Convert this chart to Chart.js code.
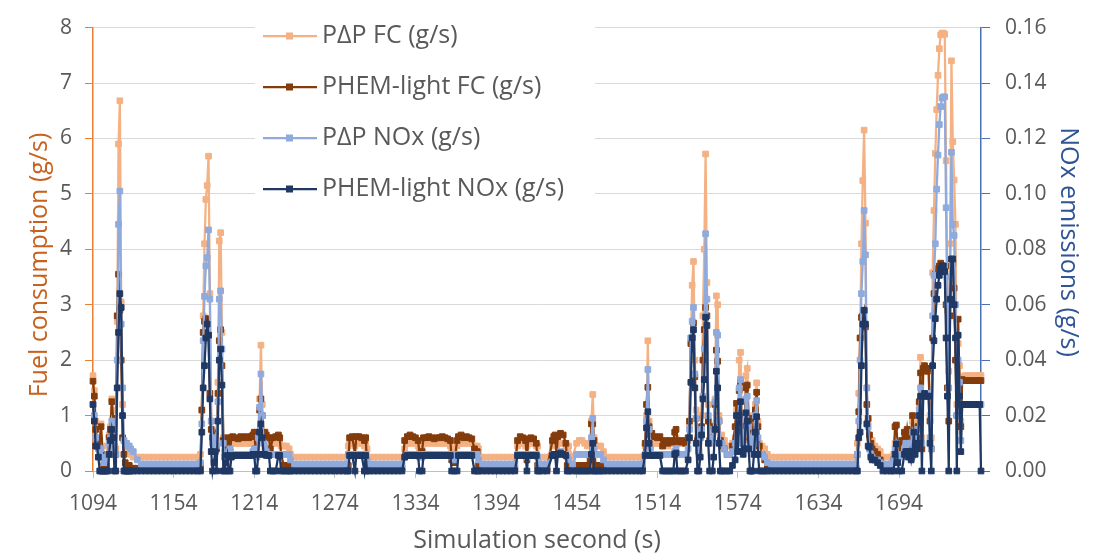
<!DOCTYPE html>
<html lang="en">

<head>
    <meta charset="UTF-8">
    <title>Fuel consumption and NOx</title>
    <script src="https://cdn.jsdelivr.net/npm/chart.js"></script>
    <style>
        html, body { margin: 0; padding: 0; background: #ffffff; }
        #chart { display: block; }
    </style>
</head>

<body>
    <canvas id="chart" width="1093" height="558"></canvas>
    <script>
        // simulation seconds (denser around the peaks)
        const secs = [
            1094,1095,1096,1097,1098,1099,1100,1101,1102,1103,1104,1105,1106,1107,1108,1109,1110,1111,1112,1113,1114,1115,1116,1117,1118,1119,1120,1121,1122,1124,
            1127,1130,1133,1136,1139,1142,1145,1148,1151,1154,1157,1160,1163,1166,1169,1172,1174,
            1175,1176,1177,1178,1179,1180,1181,1182,1183,1184,1185,1186,1187,1188,1189,1190,1191,1192,1193,1194,
            1195,1196,1197,1198,1200,1202,1204,1206,1208,1210,
            1212,1213,1214,1215,1216,1217,1218,1219,1220,1221,
            1222,1223,1225,1226,1228,1230,1232,1233,1234,1236,
            1238,1240,1241,
            1244,1247,1250,1253,1256,1259,1262,1265,1268,1271,1274,1277,1280,1283,
            1284,1285,1287,1289,1290,1292,1294,1296,1297,1298,
            1300,1303,1306,1309,1312,1315,1318,1321,1324,
            1326,1328,1330,1332,1334,1336,1337,1339,1340,1342,
            1344,1346,1348,1350,1352,1354,1356,1358,1360,1361,
            1363,1365,1366,1368,1370,1372,1374,1376,1378,1380,
            1381,
            1384,1387,1390,1393,1396,1399,1402,1405,1408,
            1410,1412,1414,1416,1417,1418,1420,1422,1424,1425,1426,
            1429,1432,
            1436,1437,1438,1439,1440,1442,1444,1446,1447,1448,
            1451,
            1454,1456,1458,1460,1462,1464,1465,1466,1467,1468,1470,1472,1474,
            1477,1480,1483,1486,1489,1492,1495,1498,1501,1503,
            1505,1506,1507,1508,1509,1510,1512,1514,1516,1518,
            1520,1522,1524,1526,1527,1528,1529,1531,1533,1535,
            1537,1538,1539,1540,1541,1542,1543,1544,1545,1546,
            1547,1548,1549,1550,1551,1552,1553,1555,1556,1557,
            1558,1559,1560,1561,1562,1564,1566,1568,1570,1572,
            1573,1574,1575,1576,1577,1578,1579,1580,1581,1582,
            1583,1584,1585,1586,1587,1588,1589,1590,1592,1594,
            1596,
            1599,1602,1605,1608,1611,1614,1617,1620,1623,1626,1629,1632,1635,1638,1641,1644,1647,1650,1653,1656,1659,1662,
            1663,1664,1665,1666,1667,1668,1669,1670,1671,1672,
            1673,1674,1676,1678,1680,1682,1685,1688,1690,1691,
            1692,1693,1694,1696,1698,1699,1700,1701,1702,1703,
            1704,1705,1706,1707,1708,1709,1710,1711,1712,1713,
            1714,1715,1716,1717,1718,1719,1720,1721,1722,1723,
            1724,1725,1726,1727,1728,1729,1730,1731,1732,1733,
            1734,1735,1736,1737,1738,1739,1740,1741,1743,1745,
            1747,1749,1751,1753,1754,1755
        ];

        // PΔP FC (g/s)
        const papFC = [
            1.72,1.45,0.90,0.60,0.55,0.60,0.85,0.45,0.30,0.25,0.30,0.45,0.65,0.80,1.30,1.10,0.45,0.40,2.70,5.90,6.68,3.05,1.20,0.55,0.45,0.40,0.35,0.35,0.30,0.25,
            0.25,0.25,0.25,0.25,0.25,0.25,0.25,0.25,0.25,0.25,0.25,0.25,0.25,0.25,0.25,0.25,0.30,
            1.10,2.80,4.10,4.90,5.15,5.68,3.20,0.90,0.55,0.50,0.70,0.55,1.60,4.15,4.30,2.50,0.60,0.35,0.45,0.50,
            0.45,0.40,0.50,0.50,0.50,0.50,0.50,0.50,0.50,0.50,
            0.50,0.55,0.60,0.45,0.40,0.70,1.30,2.27,1.20,0.60,
            0.55,0.50,0.50,0.45,0.50,0.50,0.55,0.50,0.45,0.45,
            0.45,0.40,0.30,
            0.25,0.25,0.25,0.25,0.25,0.25,0.25,0.25,0.25,0.25,0.25,0.25,0.25,0.25,
            0.45,0.50,0.50,0.45,0.50,0.50,0.50,0.45,0.50,0.40,
            0.25,0.25,0.25,0.25,0.25,0.25,0.25,0.25,0.25,
            0.40,0.50,0.50,0.50,0.50,0.45,0.40,0.45,0.50,0.50,
            0.50,0.50,0.50,0.50,0.50,0.50,0.50,0.50,0.45,0.40,
            0.40,0.45,0.50,0.50,0.50,0.50,0.50,0.50,0.45,0.45,
            0.40,
            0.25,0.25,0.25,0.25,0.25,0.25,0.25,0.25,0.25,
            0.45,0.50,0.50,0.45,0.45,0.50,0.50,0.50,0.45,0.45,0.25,
            0.25,0.25,
            0.45,0.50,0.50,0.45,0.50,0.50,0.50,0.45,0.40,0.45,
            0.25,
            0.50,0.55,0.55,0.50,0.45,0.50,0.90,1.38,0.60,0.45,0.45,0.45,0.35,
            0.25,0.25,0.25,0.25,0.25,0.25,0.25,0.25,0.25,0.25,
            0.45,1.00,2.35,0.90,0.55,0.50,0.50,0.50,0.50,0.45,
            0.50,0.45,0.50,0.50,0.55,0.60,0.50,0.50,0.50,0.50,
            0.55,0.80,2.40,3.35,3.78,2.00,1.10,0.60,0.45,0.70,
            1.00,2.80,4.00,5.72,3.40,1.20,0.50,0.60,0.70,1.30,
            3.16,3.00,1.00,0.60,0.65,0.55,0.45,0.45,0.50,0.60,
            1.10,0.60,2.00,2.14,0.80,0.60,0.70,1.72,1.85,1.00,
            0.55,0.60,0.50,0.60,1.20,1.59,0.90,0.50,0.45,0.40,
            0.30,
            0.25,0.25,0.25,0.25,0.25,0.25,0.25,0.25,0.25,0.25,0.25,0.25,0.25,0.25,0.25,0.25,0.25,0.25,0.25,0.25,0.25,0.25,
            0.50,1.40,2.40,4.10,5.24,6.15,4.47,1.50,0.90,0.60,
            0.50,0.55,0.45,0.40,0.35,0.25,0.25,0.25,0.30,0.50,
            0.55,0.45,0.40,0.45,0.60,0.65,0.70,0.60,0.70,0.60,
            0.90,0.70,0.55,0.60,0.90,1.20,2.05,0.60,1.90,1.85,
            1.80,1.85,1.80,1.00,0.60,3.58,4.70,5.73,6.52,7.14,
            7.62,7.87,7.90,7.90,7.88,5.60,2.90,1.80,4.10,7.40,
            5.94,5.25,4.45,1.20,2.30,1.90,0.90,1.70,1.72,1.72,
            1.72,1.72,1.72,1.72,1.72,1.72
        ];

        // PHEM-light FC (g/s)
        const phemFC = [
            1.62,1.35,0.75,0.50,0.45,0.55,0.80,0.30,0.10,0.05,0.10,0.30,0.60,0.75,1.25,0.95,0.30,0.30,2.80,3.55,2.90,2.00,0.60,0.30,0.15,0.10,0.10,0.10,0.05,0.05,
            0.05,0.05,0.05,0.05,0.05,0.05,0.05,0.05,0.05,0.05,0.05,0.05,0.05,0.05,0.05,0.05,0.10,
            1.10,2.50,2.70,2.75,2.70,2.45,1.40,0.75,0.60,0.55,0.65,0.40,1.40,2.35,2.55,1.90,0.55,0.25,0.50,0.60,
            0.55,0.35,0.60,0.62,0.60,0.58,0.62,0.60,0.62,0.60,
            0.62,0.65,0.70,0.40,0.30,0.65,1.10,1.30,1.00,0.65,
            0.70,0.65,0.60,0.40,0.60,0.62,0.65,0.60,0.30,0.10,
            0.10,0.10,0.05,
            0.05,0.05,0.05,0.05,0.05,0.05,0.05,0.05,0.05,0.05,0.05,0.05,0.05,0.05,
            0.10,0.60,0.62,0.30,0.62,0.62,0.60,0.55,0.60,0.10,
            0.05,0.05,0.05,0.05,0.05,0.05,0.05,0.05,0.05,
            0.55,0.62,0.65,0.62,0.60,0.55,0.30,0.35,0.60,0.60,
            0.62,0.60,0.58,0.60,0.60,0.62,0.60,0.58,0.55,0.20,
            0.15,0.55,0.62,0.65,0.60,0.62,0.60,0.58,0.40,0.35,
            0.10,
            0.05,0.05,0.05,0.05,0.05,0.05,0.05,0.05,0.05,
            0.55,0.62,0.60,0.55,0.20,0.58,0.60,0.58,0.50,0.10,0.05,
            0.05,0.05,
            0.55,0.62,0.65,0.30,0.62,0.68,0.65,0.50,0.10,0.05,
            0.05,
            0.10,0.10,0.10,0.10,0.10,0.20,0.85,0.85,0.55,0.10,0.10,0.10,0.05,
            0.05,0.05,0.05,0.05,0.05,0.05,0.05,0.05,0.05,0.05,
            0.50,1.20,1.51,0.80,0.65,0.68,0.62,0.60,0.62,0.45,
            0.55,0.50,0.55,0.52,0.70,0.75,0.55,0.52,0.55,0.50,
            0.60,0.90,2.30,2.40,2.67,1.70,0.95,0.55,0.35,0.60,
            0.80,2.00,2.55,2.95,2.80,0.90,0.55,0.60,0.80,1.20,
            2.18,1.98,0.90,0.55,0.45,0.40,0.30,0.30,0.45,0.80,
            1.22,0.60,1.45,1.60,0.70,0.55,0.80,1.50,1.55,0.95,
            0.60,0.95,0.60,0.70,1.10,1.42,0.80,0.45,0.30,0.20,
            0.10,
            0.05,0.05,0.05,0.05,0.05,0.05,0.05,0.05,0.05,0.05,0.05,0.05,0.05,0.05,0.05,0.05,0.05,0.05,0.05,0.05,0.05,0.05,
            0.30,1.07,2.40,2.77,2.80,2.90,2.60,1.20,0.95,0.65,
            0.50,0.40,0.35,0.30,0.20,0.10,0.05,0.05,0.20,0.80,
            0.83,0.40,0.30,0.55,0.70,0.55,0.75,0.55,0.70,0.45,
            1.00,0.65,0.45,0.60,0.80,1.25,1.77,0.40,1.85,1.90,
            1.85,1.80,1.85,0.90,0.40,2.40,3.20,3.55,3.60,3.65,
            3.70,3.75,3.70,3.65,3.60,3.00,1.50,0.90,2.80,3.70,
            3.75,3.30,2.00,1.00,2.74,1.60,0.80,1.65,1.63,1.63,
            1.63,1.63,1.63,1.63,1.63,1.63
        ];

        // PΔP NOx (g/s)
        const papNOx = [
            0.024,0.020,0.012,0.009,0.008,0.006,0.008,0.005,0.003,0.003,0.004,0.006,0.010,0.012,0.018,0.016,0.008,0.006,0.040,0.089,0.101,0.053,0.030,0.011,0.010,0.010,0.009,0.009,0.008,0.007,
            0.004,0.0025,0.0025,0.0025,0.0025,0.0025,0.0025,0.0025,0.0025,0.0025,0.0025,0.0025,0.0025,0.0025,0.0025,0.0025,0.003,
            0.017,0.047,0.063,0.074,0.077,0.087,0.062,0.018,0.010,0.009,0.012,0.009,0.025,0.062,0.065,0.044,0.010,0.005,0.006,0.006,
            0.007,0.008,0.006,0.006,0.006,0.006,0.006,0.006,0.006,0.006,
            0.006,0.007,0.008,0.006,0.005,0.012,0.023,0.035,0.020,0.010,
            0.008,0.007,0.006,0.006,0.006,0.006,0.006,0.006,0.006,0.006,
            0.006,0.006,0.004,
            0.0025,0.0025,0.0025,0.0025,0.0025,0.0025,0.0025,0.0025,0.0025,0.0025,0.0025,0.0025,0.0025,0.0025,
            0.006,0.006,0.006,0.006,0.006,0.006,0.006,0.006,0.006,0.004,
            0.0025,0.0025,0.0025,0.0025,0.0025,0.0025,0.0025,0.0025,0.0025,
            0.005,0.006,0.006,0.006,0.006,0.006,0.005,0.005,0.006,0.006,
            0.006,0.006,0.006,0.006,0.006,0.006,0.006,0.006,0.006,0.005,
            0.004,0.006,0.006,0.006,0.006,0.006,0.006,0.006,0.006,0.006,
            0.004,
            0.0025,0.0025,0.0025,0.0025,0.0025,0.0025,0.0025,0.0025,0.0025,
            0.006,0.006,0.006,0.006,0.005,0.006,0.006,0.006,0.006,0.005,0.0025,
            0.0025,0.0025,
            0.006,0.006,0.006,0.006,0.006,0.007,0.006,0.006,0.005,0.004,
            0.0025,
            0.006,0.006,0.006,0.006,0.006,0.006,0.012,0.019,0.008,0.006,0.006,0.006,0.004,
            0.0025,0.0025,0.0025,0.0025,0.0025,0.0025,0.0025,0.0025,0.0025,0.0025,
            0.006,0.018,0.0366,0.015,0.008,0.006,0.006,0.006,0.006,0.006,
            0.006,0.006,0.006,0.006,0.007,0.008,0.006,0.006,0.006,0.006,
            0.008,0.015,0.048,0.054,0.059,0.035,0.019,0.010,0.007,0.012,
            0.015,0.027,0.044,0.0856,0.062,0.020,0.010,0.012,0.015,0.025,
            0.050,0.049,0.018,0.010,0.010,0.008,0.006,0.006,0.007,0.010,
            0.020,0.010,0.030,0.033,0.012,0.010,0.014,0.026,0.027,0.016,
            0.008,0.012,0.008,0.010,0.020,0.0254,0.012,0.006,0.006,0.005,
            0.003,
            0.0025,0.0025,0.0025,0.0025,0.0025,0.0025,0.0025,0.0025,0.0025,0.0025,0.0025,0.0025,0.0025,0.0025,0.0025,0.0025,0.0025,0.0025,0.0025,0.0025,0.0025,0.0025,
            0.006,0.018,0.040,0.064,0.0756,0.094,0.078,0.030,0.016,0.008,
            0.006,0.005,0.004,0.004,0.003,0.0025,0.0025,0.0025,0.004,0.008,
            0.010,0.006,0.005,0.006,0.008,0.010,0.010,0.008,0.010,0.008,
            0.014,0.012,0.008,0.010,0.015,0.022,0.030,0.010,0.028,0.028,
            0.028,0.027,0.028,0.012,0.008,0.056,0.0706,0.082,0.1017,0.114,
            0.125,0.1315,0.1346,0.135,0.135,0.095,0.060,0.030,0.070,0.115,
            0.089,0.085,0.060,0.020,0.040,0.032,0.011,0.024,0.024,0.024,
            0.024,0.024,0.024,0.024,0.024,0.024
        ];

        // PHEM-light NOx (g/s)
        const phemNOx = [
            0.024,0.018,0.009,0.009,0.005,0,0,0,0,0,0,0,0.006,0.011,0.015,0.012,0,0,0.030,0.050,0.064,0.059,0.020,0,0,0,0,0,0,0,
            0,0,0,0,0,0,0,0,0,0,0,0,0,0,0,0,0,
            0.014,0.030,0.038,0.048,0.053,0.049,0.026,0.007,0,0.003,0.007,0,0.018,0.040,0.044,0.031,0,0,0.003,0.0056,
            0,0,0.005,0.0056,0.0056,0.0056,0.0056,0.0056,0.0056,0.0056,
            0.0056,0.006,0.006,0,0,0.006,0.014,0.017,0.012,0.006,
            0.006,0.0056,0.0056,0,0,0,0.0056,0.0056,0,0,
            0,0,0,
            0,0,0,0,0,0,0,0,0,0,0,0,0,0,
            0,0.0056,0.0056,0,0.0056,0.0056,0.0056,0,0.0056,0,
            0,0,0,0,0,0,0,0,0,
            0.005,0.0056,0.0056,0.0056,0.0056,0.0056,0,0,0.0056,0.0056,
            0.0056,0.0056,0.0056,0.0056,0.0056,0.0056,0.0056,0.0056,0.0056,0,
            0,0,0.0056,0.0056,0.0056,0.0056,0.0056,0.0056,0,0,
            0,
            0,0,0,0,0,0,0,0,0,
            0.0056,0.0056,0.0056,0.0056,0,0.0056,0.0056,0.0056,0.0056,0,0,
            0,0,
            0.0056,0.006,0.0056,0,0.006,0.0065,0.006,0.0056,0,0,
            0,
            0,0,0,0,0,0,0.006,0.010,0,0,0,0,0,
            0,0,0,0,0,0,0,0,0,0,
            0.0056,0.0156,0.0214,0.010,0.0056,0.0056,0.0056,0.0056,0.0056,0,
            0,0,0,0,0.006,0.0065,0,0,0,0,
            0.004,0.012,0.032,0.048,0.051,0.030,0.010,0,0,0.005,
            0.013,0.026,0.033,0.0555,0.0525,0.010,0,0,0.005,0.015,
            0.036,0.030,0.010,0,0,0,0,0,0.002,0.004,
            0.020,0.007,0.020,0.025,0.007,0.006,0.008,0.021,0.018,0.008,
            0,0,0,0.006,0.014,0.0196,0.006,0,0,0,
            0,
            0,0,0,0,0,0,0,0,0,0,0,0,0,0,0,0,0,0,0,0,0,0,
            0,0.012,0.014,0.038,0.053,0.058,0.053,0.017,0.009,0.0086,
            0.005,0.004,0.004,0.003,0.002,0,0,0,0,0.006,
            0.0098,0.003,0,0,0.006,0.007,0.007,0.005,0.007,0.004,
            0.007,0.014,0.006,0.008,0.010,0.020,0.027,0,0.027,0.028,
            0.027,0.027,0.027,0.010,0,0.038,0.047,0.055,0.062,0.067,
            0.0706,0.073,0.074,0.074,0.072,0.048,0.027,0,0.062,0.0765,
            0.0765,0.060,0.048,0,0.049,0.027,0.007,0.024,0.024,0.024,
            0.024,0.024,0.024,0.024,0.024,0
        ];

        const tickSecs = [1094, 1154, 1214, 1274, 1334, 1394, 1454, 1514, 1574, 1634, 1694];
        const seriesNames = ['P\u0394P FC (g/s)', 'PHEM-light FC (g/s)', 'P\u0394P NOx (g/s)', 'PHEM-light NOx (g/s)'];
        const seriesColors = ['#F4B183', '#843C0C', '#8FAADC', '#1F3864'];
        const xTitle = 'Simulation second (s)';
        const yTitle = 'Fuel consumption (g/s)';
        const y2Title = 'NOx emissions (g/s)';

        Chart.defaults.font.family = '"Open Sans", sans-serif';
        Chart.defaults.color = '#595959';

        function toPoints(values) {
            return secs.map((s, i) => ({ x: s, y: values[i] }));
        }

        function makeSet(idx, values, axis, order) {
            return {
                label: seriesNames[idx],
                data: toPoints(values),
                yAxisID: axis,
                order: order,
                borderColor: seriesColors[idx],
                backgroundColor: seriesColors[idx],
                pointBackgroundColor: seriesColors[idx],
                pointBorderColor: seriesColors[idx],
                borderWidth: 2.25,
                pointStyle: 'rect',
                pointRadius: 4,
                pointBorderWidth: 1,
                tension: 0,
                clip: false
            };
        }

        // legend box and axis titles
        const sidePlugin = {
            id: 'sideText',
            beforeDatasetsDraw(chart) {
                const ctx = chart.ctx;
                ctx.save();
                ctx.fillStyle = '#ffffff';
                ctx.fillRect(255, 12, 340, 200);
                const rows = [36, 87, 138, 189];
                ctx.font = '25px "Open Sans"';
                ctx.textBaseline = 'middle';
                ctx.textAlign = 'left';
                rows.forEach((y, i) => {
                    ctx.strokeStyle = seriesColors[i];
                    ctx.lineWidth = 2.25;
                    ctx.beginPath();
                    ctx.moveTo(263, y);
                    ctx.lineTo(317, y);
                    ctx.stroke();
                    ctx.fillStyle = seriesColors[i];
                    ctx.fillRect(286, y - 3.5, 7, 7);
                    ctx.fillStyle = '#595959';
                    ctx.fillText(seriesNames[i], 322, y);
                });
                ctx.restore();
            },
            afterDraw(chart) {
                const ctx = chart.ctx;
                const area = chart.chartArea;
                ctx.save();
                ctx.font = '25px "Open Sans"';
                ctx.textAlign = 'center';
                ctx.textBaseline = 'middle';
                ctx.fillStyle = '#595959';
                ctx.fillText(xTitle, (area.left + area.right) / 2, 541);

                ctx.save();
                ctx.translate(40, 265);
                ctx.rotate(-Math.PI / 2);
                ctx.fillStyle = '#C8611F';
                ctx.fillText(yTitle, 0, 0);
                ctx.restore();

                ctx.save();
                ctx.translate(1068, 242);
                ctx.rotate(Math.PI / 2);
                ctx.fillStyle = '#2F5597';
                ctx.fillText(y2Title, 0, 0);
                ctx.restore();
                ctx.restore();
            }
        };

        const ctx = document.getElementById('chart').getContext('2d');
        const chart = new Chart(ctx, {
            type: 'line',
            data: {
                datasets: [
                    makeSet(0, papFC, 'y', 4),
                    makeSet(1, phemFC, 'y', 3),
                    makeSet(2, papNOx, 'y2', 2),
                    makeSet(3, phemNOx, 'y2', 1)
                ]
            },
            options: {
                responsive: false,
                animation: false,
                devicePixelRatio: 1,
                layout: { padding: { top: 16, left: 0, right: 0, bottom: 0 } },
                plugins: {
                    legend: { display: false },
                    tooltip: { enabled: false }
                },
                scales: {
                    x: {
                        type: 'linear',
                        min: 1094,
                        max: 1755,
                        afterBuildTicks: (scale) => {
                            scale.ticks = tickSecs.map(v => ({ value: v }));
                        },
                        afterFit: (scale) => { scale.height = 87; },
                        ticks: {
                            callback: (v) => String(v),
                            autoSkip: false,
                            maxRotation: 0,
                            padding: 13,
                            color: '#595959',
                            font: { size: 21 }
                        },
                        grid: { drawOnChartArea: false, tickLength: 7, color: '#BFBFBF' },
                        border: { color: '#BFBFBF' }
                    },
                    y: {
                        position: 'left',
                        min: 0,
                        max: 8,
                        afterFit: (scale) => { scale.width = 93; },
                        ticks: { stepSize: 1, padding: 13, color: '#595959', font: { size: 21 } },
                        grid: { color: '#D9D9D9', tickColor: '#ED7D31', tickLength: 8 },
                        border: { color: '#ED7D31', width: 1.5 }
                    },
                    y2: {
                        position: 'right',
                        min: 0,
                        max: 0.16,
                        afterFit: (scale) => { scale.width = 112; },
                        ticks: {
                            stepSize: 0.02,
                            padding: 15,
                            color: '#595959',
                            font: { size: 21 },
                            callback: (v) => v.toFixed(2)
                        },
                        grid: { drawOnChartArea: false, tickColor: '#4A70B5', tickLength: 9 },
                        border: { color: '#4A70B5', width: 1.5 }
                    }
                }
            },
            plugins: [sidePlugin]
        });
    </script>
</body>

</html>
